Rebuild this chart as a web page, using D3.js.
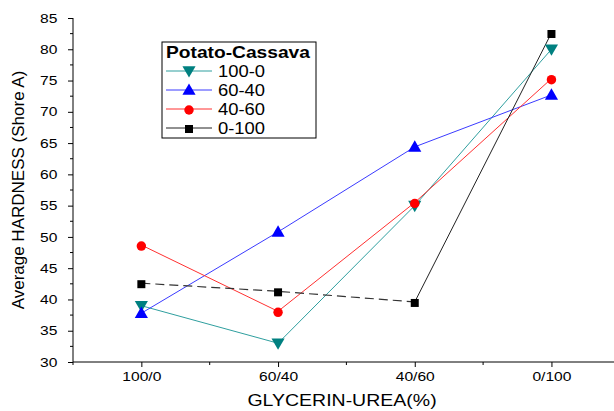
<!DOCTYPE html>
<html>
<head>
<meta charset="utf-8">
<script src="https://cdn.jsdelivr.net/npm/d3@7"></script>
<style>
  body { margin: 0; background: #fff; }
  text { font-family: "Liberation Sans", Arial, sans-serif; fill: #000; }
</style>
</head>
<body>
<div id="chart"></div>
<script>
// Data
const categories = ["100/0", "60/40", "40/60", "0/100"];
const yTicks = [30, 35, 40, 45, 50, 55, 60, 65, 70, 75, 80, 85];
const seriesNames = ["100-0", "60-40", "40-60", "0-100"];
const s100_0 = [39.0, 33.0, 55.0, 80.0];
const s60_40 = [37.8, 50.8, 64.4, 72.7];
const s40_60 = [48.7, 38.1, 55.5, 75.3];
const s0_100 = [42.6, 41.3, 39.6, 82.6];

const width = 614, height = 411;
const margin = { top: 18, right: 0, bottom: 49, left: 73 };
// the source picture is a bit stretched horizontally, so text is widened too
const wide = 1.2;

const svg = d3.select("#chart").append("svg")
    .attr("width", width)
    .attr("height", height);

// x: categories with half a step of padding on each side (right side runs off the picture)
const step = 136.7;
const xScale = d3.scalePoint()
    .domain(categories)
    .range([margin.left + step / 2, margin.left + step / 2 + step * 3]);

const yScale = d3.scaleLinear()
    .domain([30, 85])
    .range([height - margin.bottom, margin.top]);

// Axes
const xAxis = d3.axisBottom(xScale).tickSize(5).tickPadding(5);
const gx = svg.append("g")
    .attr("transform", `translate(0,${height - margin.bottom})`)
    .call(xAxis);
gx.select(".domain").attr("d", `M${margin.left},0H${width}`);
gx.selectAll("text")
    .style("font-size", "13px")
    .attr("transform", `scale(${wide},1)`);
// minor x ticks between categories
gx.selectAll(".minor")
    .data(d3.range(4))
    .enter().append("line")
    .attr("x1", i => margin.left + step * i)
    .attr("x2", i => margin.left + step * i)
    .attr("y1", 0).attr("y2", 3)
    .attr("stroke", "#000");

const yAxis = d3.axisLeft(yScale).tickValues(yTicks).tickSize(5).tickPadding(8);
const gy = svg.append("g")
    .attr("transform", `translate(${margin.left},0)`)
    .call(yAxis);
gy.select(".domain").attr("d", `M0,${yScale(85)}V${yScale(30)}`);
gy.selectAll("text")
    .style("font-size", "13px")
    .attr("transform", `scale(${wide},1)`);
gy.selectAll(".minor")
    .data(yTicks.slice(0, -1).map(v => v + 2.5))
    .enter().append("line")
    .attr("x1", -3).attr("x2", 0)
    .attr("y1", d => yScale(d)).attr("y2", d => yScale(d))
    .attr("stroke", "#000");

// Axis labels
svg.append("text")
    .attr("transform", `translate(342,406) scale(1.22,1)`)
    .style("text-anchor", "middle")
    .style("font-size", "16px")
    .text("GLYCERIN-UREA(%)");

svg.append("text")
    .attr("transform", "translate(24,190) rotate(-90)")
    .style("text-anchor", "middle")
    .style("font-size", "17px")
    .text("Average HARDNESS (Shore A)");

// Series
const series = [
    { name: seriesNames[0], values: s100_0, line: "#2f9f9f", fill: "#008080", symbol: d3.symbolTriangle, rot: 180, size: 75 },
    { name: seriesNames[1], values: s60_40, line: "#3b3bff", fill: "#0000ff", symbol: d3.symbolTriangle, rot: 0, size: 75 },
    { name: seriesNames[2], values: s40_60, line: "#ff3030", fill: "#ff0000", symbol: d3.symbolCircle, rot: 0, size: 70 },
    { name: seriesNames[3], values: s0_100, line: "#222", fill: "#000", symbol: d3.symbolSquare, rot: 0, size: 64 }
];

const line = d3.line()
    .x(d => xScale(d.cat))
    .y(d => yScale(d.value));

series.forEach(s => {
    const pts = s.values.map((v, i) => ({ cat: categories[i], value: v }));
    if (s.name === "0-100") {
        // dashed for the first segments, solid for the last one
        svg.append("path")
            .datum(pts.slice(0, 3))
            .attr("d", line)
            .attr("fill", "none")
            .attr("stroke", "#333")
            .attr("stroke-width", 1.2)
            .attr("stroke-dasharray", "9,5");
        svg.append("path")
            .datum(pts.slice(2))
            .attr("d", line)
            .attr("fill", "none")
            .attr("stroke", s.line)
            .attr("stroke-width", 1);
    } else {
        svg.append("path")
            .datum(pts)
            .attr("d", line)
            .attr("fill", "none")
            .attr("stroke", s.line)
            .attr("stroke-width", 1);
    }
    s.pts = pts;
});

series.forEach(s => {
    svg.selectAll(null)
        .data(s.pts)
        .enter().append("path")
        .attr("d", d3.symbol().type(s.symbol).size(s.size))
        .attr("transform", d => `translate(${xScale(d.cat)},${yScale(d.value) + (s.rot ? -1 : 1)}) rotate(${s.rot})`)
        .attr("fill", s.fill);
});

// Legend
const legend = svg.append("g").attr("transform", "translate(162,42)");
legend.append("rect")
    .attr("width", 154).attr("height", 96)
    .attr("fill", "#fff")
    .attr("stroke", "#000")
    .attr("stroke-width", 1);
legend.append("text")
    .attr("transform", "translate(4,16) scale(1.2,1)")
    .style("font-size", "16px")
    .style("font-weight", "bold")
    .text("Potato-Cassava");
series.forEach((s, i) => {
    const y = 29 + i * 19;
    legend.append("line")
        .attr("x1", 4).attr("x2", 50)
        .attr("y1", y).attr("y2", y)
        .attr("stroke", s.line)
        .attr("stroke-width", 1);
    legend.append("path")
        .attr("d", d3.symbol().type(s.symbol).size(s.size))
        .attr("transform", `translate(27,${y + (s.rot ? -1 : 1)}) rotate(${s.rot})`)
        .attr("fill", s.fill);
    legend.append("text")
        .attr("transform", `translate(56,${y + 6}) scale(1.15,1)`)
        .style("font-size", "16px")
        .text(s.name);
});
</script>
</body>
</html>
